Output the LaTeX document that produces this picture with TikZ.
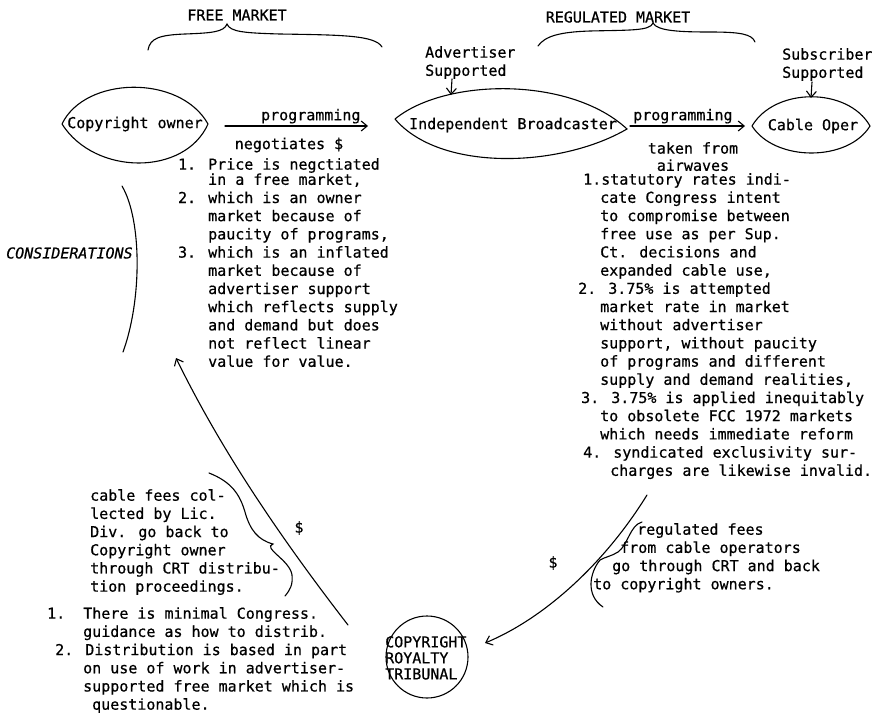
\documentclass[tikz,border=0pt]{standalone}
\usepackage{fontspec}
\newfontfamily\tw[FakeBold=0.6]{DejaVu Sans Mono}
\usetikzlibrary{positioning, arrows.meta, calc}

\tikzset{
  txt/.style={font=\tw\fontsize{15}{18.2}\selectfont, inner sep=0pt},
  blk/.style={txt, align=left, anchor=north west},
  ital/.style={txt, font=\tw\fontsize{15}{18.2}\selectfont\itshape},
  pen/.style={line width=1.1pt, line cap=round},
  arr/.style={pen, -{Straight Barb[length=6pt,width=10pt,line width=1.1pt]}},
}

\begin{document}
\begin{tikzpicture}[x=1pt, y=-1pt]
  \useasboundingbox (0,0) rectangle (873,718);

  % market headings
  \node[txt] (free) at (237,15) {FREE MARKET};
  \node[txt] (reg) at (618,17) {REGULATED MARKET};
  \draw[pen] (148,50) .. controls (150,38) and (160,35) .. (185,34)
    .. controls (212,33) and (224,32) .. (227,24)
    .. controls (230,32) and (245,33) .. (280,34)
    .. controls (340,35) and (375,35) .. (382,47);
  \draw[pen] (538,46) .. controls (545,36) and (560,32) .. (590,31)
    .. controls (630,30) and (650,31) .. (653,23)
    .. controls (657,31) and (680,32) .. (710,32)
    .. controls (740,32) and (752,34) .. (755,42);

  % support notes
  \node[blk] (adv) at (425,46) {Advertiser\\Supported};
  \node[blk] (sub) at (782,48) {Subscriber\\Supported};
  \coordinate (adv-a) at (452,79);
  \coordinate (adv-b) at (451,95);
  \coordinate (sub-a) at (812,82);
  \coordinate (sub-b) at (811,98);
  \draw[arr] (adv-a) -- (adv-b);
  \draw[arr] (sub-a) -- (sub-b);

  % the three parties
  \node[txt] (cown) at (135,124) {Copyright owner};
  \coordinate (cown-l) at (62,124);
  \coordinate (cown-r) at (208,124);
  \draw[pen] (cown-l) .. controls (85,76) and (180,74) .. (cown-r)
    .. controls (185,176) and (95,176) .. (cown-l);

  \node[txt] (ib) at (513,125) {Independent Broadcaster};
  \coordinate (ib-l) at (395,119);
  \coordinate (ib-r) at (627,129);
  \draw[pen] (ib-l) .. controls (445,78) and (570,76) .. (ib-r)
    .. controls (560,168) and (440,172) .. (ib-l);

  \node[txt] (cab) at (813,126) {Cable Oper};
  \coordinate (cab-l) at (752,126);
  \coordinate (cab-r) at (870,126);
  \draw[pen] (cab-l) .. controls (775,87) and (848,87) .. (cab-r)
    .. controls (848,162) and (775,162) .. (cab-l);

  % programming flows
  \coordinate (a1s) at (225,126);
  \coordinate (a1e) at (368,126);
  \draw[arr] (a1s) -- node[txt, above=2pt, pos=0.6] (prog1) {programming} (a1e);
  \node[txt] (neg) at (289,145) {negotiates \$};
  \coordinate (a2s) at (630,126);
  \coordinate (a2e) at (745,126);
  \draw[arr] (a2s) -- node[txt, above=2pt, pos=0.46] (prog2) {programming} (a2e);
  \node[txt, align=center, anchor=north] (taken) at (693,142) {taken from\\[-1pt]airwaves};

  % free market considerations
  \node[blk] (flist) at (208,158) {\llap{1. }Price is negctiated\\[-3pt]
    in a free market,\\
    \llap{2. }which is an owner\\
    market because of\\
    paucity of programs,\\
    \llap{3. }which is an inflated\\
    market because of\\
    advertiser support\\
    which reflects supply\\
    and demand but does\\
    not reflect linear\\
    value for value.};
  \node[ital, anchor=west] (cons) at (6,253) {CONSIDERATIONS};
  \draw[pen] (122,186) .. controls (142,220) and (142,300) .. (123,352);

  % regulated market considerations
  \node[blk] (rlist) at (583,173) {1.statutory rates indi-\\
    \hspace*{17pt}cate Congress intent\\
    \hspace*{17pt}to compromise between\\
    \hspace*{17pt}free use as per Sup.\\
    \hspace*{17pt}Ct. decisions and\\
    \hspace*{17pt}expanded cable use,\\
    \hspace*{-5pt}2. 3.75\% is attempted\\
    \hspace*{17pt}market rate in market\\
    \hspace*{17pt}without advertiser\\
    \hspace*{17pt}support, without paucity\\
    \hspace*{17pt}of programs and different\\
    \hspace*{17pt}supply and demand realities,\\
    \hspace*{-2pt}3. 3.75\% is applied inequitably\\
    \hspace*{17pt}to obsolete FCC 1972 markets\\
    \hspace*{17pt}which needs immediate reform\\
    4. syndicated exclusivity sur-\\
    \hspace*{27pt}charges are likewise invalid.};

  % tribunal
  \coordinate (crtc) at (427,657);
  \draw[pen] (crtc) circle[radius=41];
  \node[blk, font=\tw\fontsize{15}{16}\selectfont] (crt) at (385,636) {COPYRIGHT\\ROYALTY\\TRIBUNAL};

  % fees into the tribunal
  \coordinate (ra-s) at (647,495);
  \coordinate (ra-e) at (485,643);
  \draw[arr] (ra-s) .. controls (605,563) and (545,618) .. (ra-e);
  \node[txt] (dol2) at (553,563) {\$};
  \draw[pen] (642,522) .. controls (630,525) and (628,545) .. (618,552)
    .. controls (612,556) and (605,557) .. (600,560)
    .. controls (590,572) and (585,595) .. (603,607);
  \node[blk] (rfees) at (593,523) {\hspace*{44pt}regulated fees\\
    \hspace*{27pt}from cable operators\\
    \hspace*{19pt}go through CRT and back\\
    to copyright owners.};

  % fees back to the owner
  \coordinate (la-s) at (348,625);
  \coordinate (la-e) at (176,358);
  \draw[arr] (la-s) .. controls (280,537) and (221,450) .. (la-e);
  \node[txt] (dol1) at (299,528) {\$};
  \draw[pen] (209,473) .. controls (232,482) and (240,495) .. (245,512)
    .. controls (250,530) and (258,540) .. (273,544)
    .. controls (262,548) and (290,560) .. (292,575)
    .. controls (293,585) and (290,590) .. (285,596);
  \node[blk] (lfees) at (90,489) {cable fees col-\\
    lected by Lic.\\
    Div. go back to\\
    Copyright owner\\
    through CRT distribu-\\
    tion proceedings.};
  \node[blk] (dlist) at (47,607) {1.\hspace*{18pt}There is minimal Congress.\\
    \hspace*{36pt}guidance as how to distrib.\\
    \hspace*{8pt}2. Distribution is based in part\\
    \hspace*{36pt}on use of work in advertiser-\\
    \hspace*{36pt}supported free market which is\\
    \hspace*{45pt}questionable.};
\end{tikzpicture}
\end{document}
